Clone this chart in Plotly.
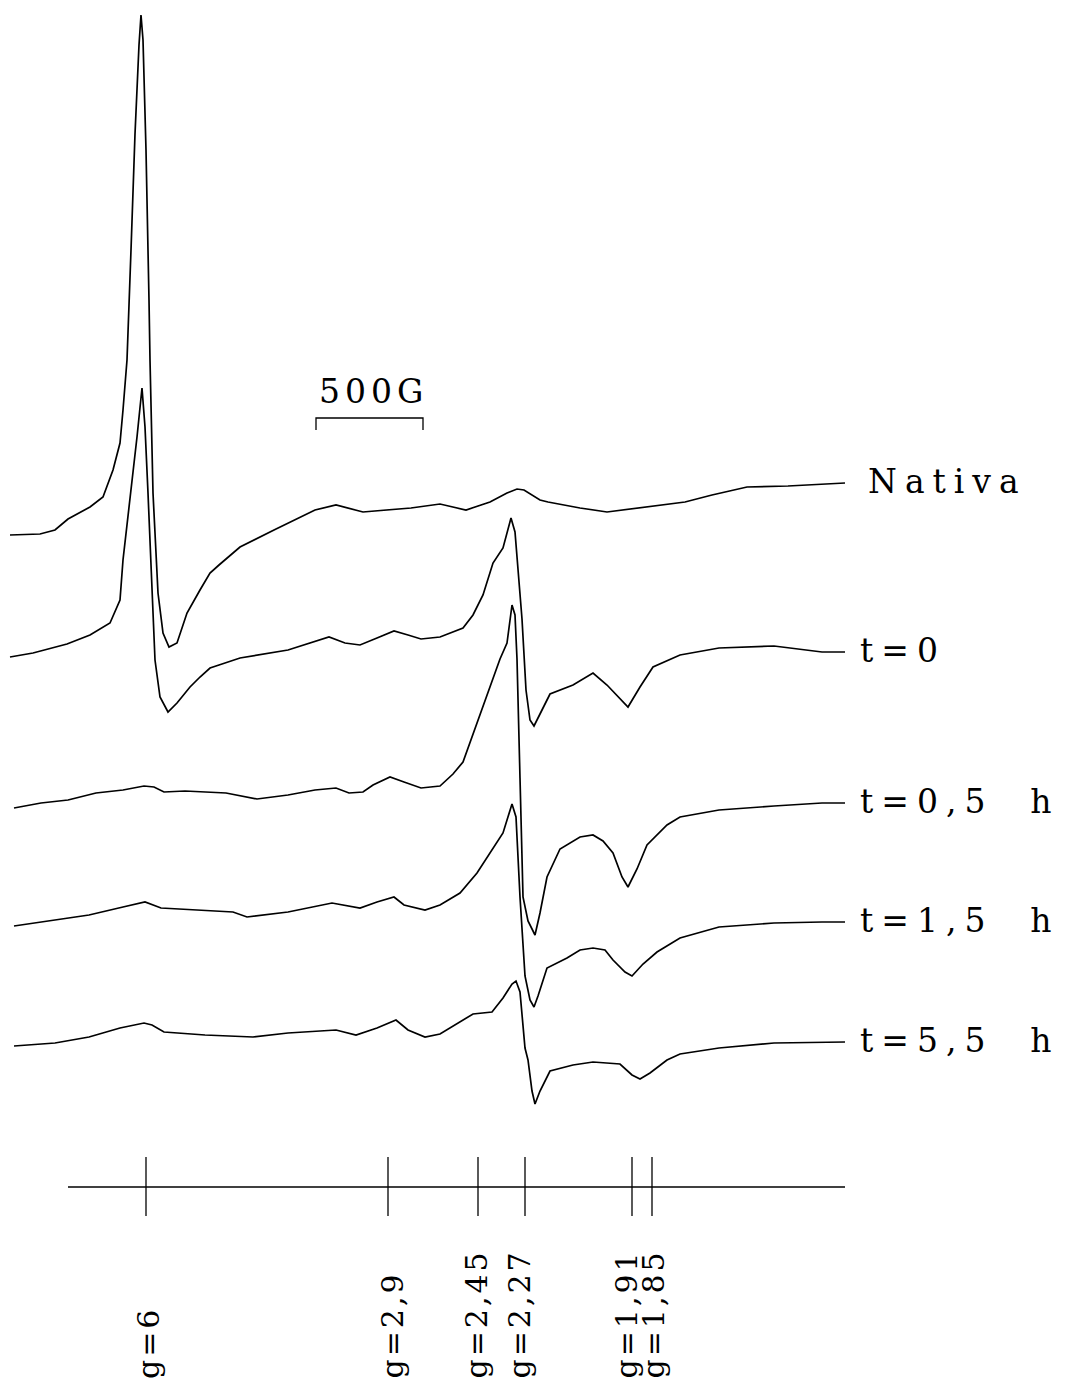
import plotly.graph_objects as go

NATIVA_X = [10, 40, 55, 68, 90, 103, 113, 120, 123, 127, 131, 135, 139, 141, 143, 146, 149, 150, 153, 158,
            163, 169, 177, 187, 200, 210, 219, 240, 274, 315, 336, 363, 411, 440, 466, 490, 507, 517, 524,
            540, 548, 580, 607, 640, 673, 685, 712, 747, 788, 820, 845]
NATIVA_Y = [535, 534, 530, 519, 507, 497, 470, 443, 410, 360, 250, 134, 45, 15, 40, 150, 300, 360, 493, 593,
            633, 647, 643, 613, 590, 573, 565, 547, 530, 510, 505, 512, 508, 504, 510, 502, 493, 489, 490,
            500, 502, 508, 512, 508, 504, 502, 495, 487, 486, 484, 483]

T0_X = [10, 33, 67, 90, 110, 120, 123, 130, 137, 142, 145, 148, 152, 155, 160, 168, 177, 190, 200, 210, 219,
        240, 288, 329, 345, 360, 377, 394, 408, 421, 440, 463, 473, 483, 493, 503, 511, 515, 522, 526, 530,
        534, 540, 550, 573, 593, 607, 620, 628, 640, 653, 680, 719, 774, 822, 845]
T0_Y = [657, 653, 644, 635, 623, 600, 560, 500, 437, 388, 427, 493, 593, 660, 697, 712, 703, 687, 677, 668,
        665, 658, 650, 637, 643, 645, 638, 631, 635, 639, 637, 628, 615, 595, 563, 548, 518, 532, 619, 690,
        720, 726, 714, 694, 685, 673, 685, 698, 707, 687, 667, 655, 648, 646, 652, 652]

T05_X = [14, 41, 68, 96, 123, 144, 154, 164, 185, 226, 257, 288, 315, 336, 349, 363, 373, 390, 404, 421,
         440, 453, 463, 473, 487, 500, 507, 512, 515, 517, 520, 523, 528, 535, 540, 547, 560, 580, 593, 603,
         613, 622, 628, 637, 647, 667, 680, 719, 774, 822, 845]
T05_Y = [808, 803, 800, 793, 790, 786, 787, 792, 791, 793, 799, 795, 790, 788, 793, 792, 785, 777, 782, 788,
         786, 774, 762, 734, 694, 659, 643, 605, 615, 659, 778, 897, 921, 935, 913, 877, 849, 837, 835, 841,
         853, 877, 887, 869, 845, 825, 817, 810, 806, 803, 803]

T15_X = [14, 55, 89, 123, 145, 161, 199, 233, 247, 288, 332, 360, 377, 394, 404, 425, 440, 460, 477, 490,
         503, 512, 516, 520, 525, 530, 534, 538, 547, 567, 580, 593, 605, 613, 625, 632, 643, 657, 680, 719,
         774, 822, 845]
T15_Y = [926, 920, 915, 907, 902, 908, 910, 912, 917, 912, 903, 908, 902, 897, 905, 910, 905, 893, 873, 853,
         833, 804, 817, 897, 976, 1000, 1007, 996, 968, 958, 950, 948, 950, 960, 972, 976, 964, 952, 938,
         927, 923, 922, 922]

T55_X = [14, 55, 89, 120, 144, 152, 164, 205, 253, 288, 336, 356, 377, 392, 396, 408, 425, 440, 457, 473,
         492, 503, 512, 516, 520, 525, 528, 532, 535, 540, 550, 573, 593, 620, 632, 640, 650, 667, 680, 719,
         774, 822, 845]
T55_Y = [1046, 1043, 1037, 1028, 1023, 1025, 1032, 1035, 1037, 1033, 1030, 1035, 1028, 1022, 1020, 1030,
         1037, 1034, 1024, 1014, 1012, 998, 984, 981, 992, 1048, 1060, 1091, 1104, 1091, 1071, 1065, 1062,
         1064, 1075, 1079, 1073, 1060, 1054, 1048, 1043, 1042, 1042]

SERIES_NAMES = ["Nativa", "t=0", "t=0,5  h", "t=1,5  h", "t=5,5  h"]

# g-value markers on the field axis
G_LABELS = ["6", "2,9", "2,45", "2,27", "1,91", "1,85"]
G_FIELD = [146, 388, 478, 525, 632, 652]

# scale bar
SCALE_LABEL = "500G"
SCALE_FIELD = [316, 423]

# ---- styling / layout ----
W, H = 1067, 1383
PAGE_MARGIN = 8   # default body margin of the written html page
FONT = "DejaVu Serif"
series = [(NATIVA_X, NATIVA_Y), (T0_X, T0_Y), (T05_X, T05_Y), (T15_X, T15_Y), (T55_X, T55_Y)]
label_x = [866, 858, 858, 858, 858]
g_label_nudge = [2, 4, -2, -6, -6, 1]

fig = go.Figure()
for (xs, ys), name in zip(series, SERIES_NAMES):
    fig.add_trace(go.Scatter(x=xs, y=ys, mode="lines", name=name,
                             line=dict(color="black", width=1.7), hoverinfo="skip"))

# field axis with g markers
AXIS_Y, TICK_TOP, TICK_BOT = 1187, 1157, 1216
fig.add_trace(go.Scatter(x=[68, 845], y=[AXIS_Y, AXIS_Y], mode="lines",
                         line=dict(color="black", width=1.3), hoverinfo="skip"))
for gx in G_FIELD:
    fig.add_trace(go.Scatter(x=[gx, gx], y=[TICK_TOP, TICK_BOT], mode="lines",
                             line=dict(color="black", width=1.3), hoverinfo="skip"))

# scale bar bracket
sx0, sx1 = SCALE_FIELD
fig.add_trace(go.Scatter(x=[sx0, sx0, sx1, sx1], y=[430, 418, 418, 430], mode="lines",
                         line=dict(color="black", width=1.3), hoverinfo="skip"))

annotations = []
for (xs, ys), name, lx in zip(series, SERIES_NAMES, label_x):
    annotations.append(dict(x=lx, y=ys[-1] - 2, xref="x", yref="y", xanchor="left", yanchor="middle",
                            text=f'<span style="letter-spacing:8px">{name}</span>', showarrow=False,
                            font=dict(family=FONT, size=33, color="black")))
annotations.append(dict(x=(sx0 + sx1) / 2 + 4, y=413, xref="x", yref="y", xanchor="center",
                        yanchor="bottom", text=f'<span style="letter-spacing:5px">{SCALE_LABEL}</span>',
                        showarrow=False, font=dict(family=FONT, size=33, color="black")))
for gx, lab, nd in zip(G_FIELD, G_LABELS, g_label_nudge):
    annotations.append(dict(x=gx + nd, y=1381, xref="x", yref="y", xanchor="center", yanchor="bottom",
                            textangle=-90, text=f'<span style="letter-spacing:3px">g={lab}</span>',
                            showarrow=False, font=dict(family=FONT, size=30, color="black")))

fig.update_layout(
    width=W - PAGE_MARGIN, height=H - PAGE_MARGIN, margin=dict(l=0, r=0, t=0, b=0),
    paper_bgcolor="white", plot_bgcolor="white", showlegend=False,
    xaxis=dict(range=[PAGE_MARGIN, W], visible=False, fixedrange=True),
    yaxis=dict(range=[H, PAGE_MARGIN], visible=False, fixedrange=True),
    annotations=annotations,
)
fig.write_html("out.html")
